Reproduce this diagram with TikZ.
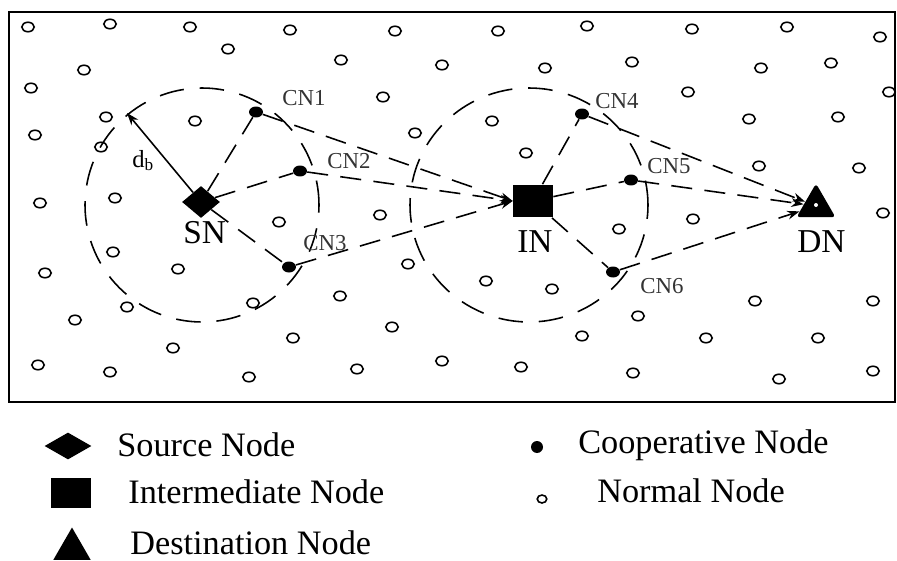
\documentclass[tikz,border=0pt]{standalone}
\usepackage{fontspec}
\setmainfont{Liberation Serif}
\usetikzlibrary{shapes.geometric,arrows.meta}
\begin{document}
\begin{tikzpicture}[x=0.02cm,y=-0.02cm,
  normalnode/.style={draw,ellipse,line width=0.9pt,inner sep=0pt,minimum width=0.25cm,minimum height=0.19cm},
  coopnode/.style={fill,ellipse,inner sep=0pt,minimum width=0.28cm,minimum height=0.22cm},
  linkline/.style={line width=0.9pt,dash pattern=on 12pt off 7pt},
  rangecircle/.style={line width=0.9pt,dash pattern=on 14pt off 9pt},
  txt/.style={anchor=base west,inner sep=0pt},
  cnlabel/.style={txt,text=black!80,font=\fontsize{13}{15}\selectfont},
  mainlabel/.style={txt,font=\fontsize{19}{22}\selectfont},
  legtext/.style={txt,font=\fontsize{19.5}{23}\selectfont},
  >={Stealth[length=7pt,width=5pt]}]
\useasboundingbox (0,0) rectangle (897,561);
\draw[line width=1.3pt] (9,12) rectangle (895,402);
\foreach \x/\y [count=\i] in {28/27,110/24,190/27,290/30,395/31,498/31,587/26,692/29,787/27,880/37,
  228/49,341/60,442/65,545/68,632/62,761/68,831/63,84/70,31/88,383/97,688/92,889/92,
  106/117,195/121,492/121,749/119,838/117,35/135,101/147,415/133,526/153,759/166,859/168,
  40/203,115/198,380/215,279/222,619/229,693/219,883/213,113/252,45/273,178/269,408/264,
  486/281,552/289,340/296,253/303,127/307,75/320,293/338,392/327,582/336,638/316,755/301,
  873/301,706/338,818/338,173/348,38/365,110/372,249/377,357/369,442/361,521/367,633/373,
  779/379,873/371}
  \node[normalnode] (nn\i) at (\x,\y) {};
\draw[rangecircle] (202,205) circle[radius=2.34cm];
\draw[rangecircle] (529,205) ellipse[x radius=2.38cm,y radius=2.34cm];
\node[diamond,fill,inner sep=0pt,minimum width=0.76cm,minimum height=0.64cm] (sn) at (201,202) {};
\node[fill,inner sep=0pt,minimum width=0.8cm,minimum height=0.66cm] (in) at (533,201) {};
\node[regular polygon,regular polygon sides=3,fill,inner sep=0pt,minimum size=0.9cm,rounded corners=2pt] (dn) at (816,206) {};
\node[circle,fill=white,inner sep=0pt,minimum size=0.08cm] (dnc) at (816,205) {};
\node[mainlabel] (snl) at (183,243) {SN};
\node[mainlabel] (inl) at (517,252) {IN};
\node[mainlabel] (dnl) at (797,252) {DN};
\node[coopnode] (cn1) at (256,112) {};
\node[coopnode] (cn2) at (300,171) {};
\node[coopnode] (cn3) at (289,267) {};
\node[coopnode] (cn4) at (582,114) {};
\node[coopnode] (cn5) at (631,180) {};
\node[coopnode] (cn6) at (613,272) {};
\node[cnlabel] at (282,105) {CN1};
\node[cnlabel] at (327,168) {CN2};
\node[cnlabel] at (303,250) {CN3};
\node[cnlabel] at (595,108) {CN4};
\node[cnlabel] at (647,173) {CN5};
\node[cnlabel] at (640,293) {CN6};
\coordinate (rb) at (127,113);
\draw[->,line width=0.9pt] (sn) -- (rb);
\node[txt,font=\fontsize{14}{16}\selectfont] (db) at (132,167) {d\textsubscript{b}};
\draw[linkline] (sn) -- (cn1);
\draw[linkline] (sn) -- (cn2);
\draw[linkline] (sn) -- (cn3);
\draw[linkline,->] (cn1) -- (in.west);
\draw[linkline,->] (cn2) -- (in.west);
\draw[linkline,->] (cn3) -- (in.west);
\draw[linkline] (in) -- (cn4);
\draw[linkline] (in) -- (cn5);
\draw[linkline] (in) -- (cn6);
\draw[linkline,->] (cn4) -- (dn);
\draw[linkline,->] (cn5) -- (dn);
\draw[linkline,->] (cn6) -- (dn);
\node[diamond,fill,inner sep=0pt,minimum width=0.94cm,minimum height=0.54cm] (lsn) at (68,446) {};
\node[fill,inner sep=0pt,minimum width=0.8cm,minimum height=0.6cm] (lin) at (71,493) {};
\node[regular polygon,regular polygon sides=3,fill,inner sep=0pt,minimum size=0.86cm] (ldn) at (72,549) {};
\node[circle,fill,inner sep=0pt,minimum size=0.24cm] (lcn) at (537,447) {};
\node[normalnode,minimum width=0.19cm,minimum height=0.16cm] (lnn) at (542,499) {};
\node[legtext] at (117,456) {Source Node};
\node[legtext] at (128,503) {Intermediate Node};
\node[legtext] at (130,554) {Destination Node};
\node[legtext] at (578,453) {Cooperative Node};
\node[legtext] at (597,502) {Normal Node};
\end{tikzpicture}
\end{document}
